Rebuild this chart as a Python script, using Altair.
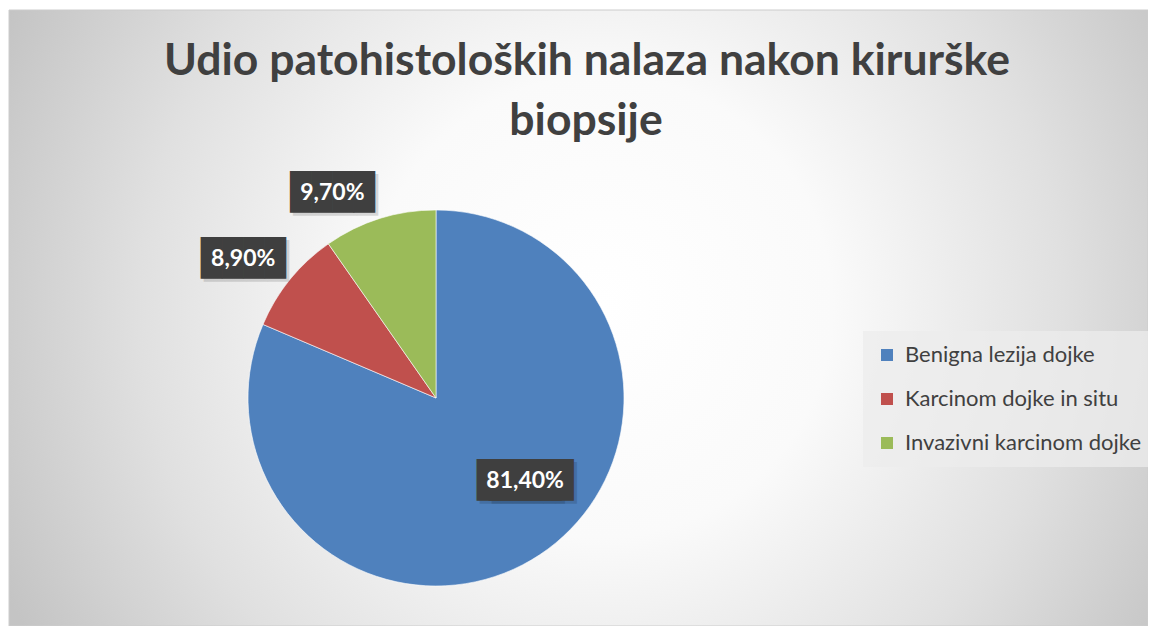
import altair as alt
import pandas as pd

# ---- data ----
categories = ["Benigna lezija dojke", "Karcinom dojke in situ", "Invazivni karcinom dojke"]
shares = [81.4, 8.9, 9.7]
colors = ["#4F81BD", "#C0504D", "#9BBB59"]
title_lines = ["Udio patohistoloških nalaza nakon kirurške", "biopsije"]

# ---- layout / style ----
W, H = 1139, 616
CX, CY = 427, 388
R = 188
TXT = "#404040"

df = pd.DataFrame({"category": categories, "share": shares,
                   "order": list(range(len(categories)))})
one = pd.DataFrame({"a": [0]})

theta_scale = alt.Scale(domain=[0, 100])

base = (
    alt.Chart(df)
    .transform_stack(stack="share", groupby=[], as_=["t0", "t1"],
                     sort=[alt.SortField("order", "ascending")])
    .transform_calculate(
        mid="(datum.t0 + datum.t1) / 2",
        label="replace(format(datum.share, '.2f'), '.', ',') + '%'",
    )
)

gradient = {
    "gradient": "radial",
    "x1": 0.52, "y1": 0.49, "r1": 0,
    "x2": 0.52, "y2": 0.49, "r2": 0.58,
    "stops": [
        {"offset": 0, "color": "#ffffff"},
        {"offset": 0.35, "color": "#fafafa"},
        {"offset": 0.7, "color": "#e0e0e0"},
        {"offset": 1, "color": "#c4c4c4"},
    ],
}

bg = alt.Chart(one).mark_rect(fill=gradient, stroke="#cccccc", strokeWidth=1).encode(
    x=alt.value(0), x2=alt.value(W), y=alt.value(0), y2=alt.value(H)
)

arc = base.mark_arc(outerRadius=R, x=CX, y=CY, stroke="#ffffff", strokeWidth=0.6).encode(
    theta=alt.Theta("t0:Q", scale=theta_scale),
    theta2="t1:Q",
    color=alt.Color(
        "category:N",
        scale=alt.Scale(domain=categories, range=colors),
        legend=alt.Legend(
            title=None, orient="none", legendX=854, legendY=321,
            fillColor="rgba(236,236,236,0.75)", padding=13,
            symbolType="square", symbolSize=144, symbolStrokeWidth=0,
            labelFont="Lato", labelFontSize=22, labelColor=TXT,
            rowPadding=22, labelOffset=7, labelLimit=400,
        ),
    ),
)

title1 = alt.Chart(one).mark_text(
    text=title_lines[0], font="Lato", fontWeight="bold", fontSize=44.5,
    color=TXT, align="center", baseline="alphabetic"
).encode(x=alt.value(578), y=alt.value(65))
title2 = alt.Chart(one).mark_text(
    text=title_lines[1], font="Lato", fontWeight="bold", fontSize=44.5,
    color=TXT, align="center", baseline="alphabetic"
).encode(x=alt.value(577), y=alt.value(125))

# label placement: (category, radius, dx, dy, box offsets)
label_specs = [
    (categories[0], 119, 23.5, -16, [-6, 6]),
    (categories[1], 238, -8, 11, [0]),
    (categories[2], 232, -34, 16, [0]),
]

shadow_layers = []
box_layers = []
text_layers = []
for cat, r, dx, dy, offs in label_specs:
    sub = base.transform_filter(alt.datum.category == cat)
    for off in offs:
        shadow_layers.append(
            sub.mark_text(
                text="████", font="DejaVu Sans Mono", fontSize=35.2,
                color="#000000", opacity=0.13, radius=r, x=CX, y=CY,
                dx=dx + off + 3, dy=dy + 3, align="center", baseline="middle",
            ).encode(theta=alt.Theta("mid:Q", stack=None, scale=theta_scale))
        )
        box_layers.append(
            sub.mark_text(
                text="████", font="DejaVu Sans Mono", fontSize=35.2,
                color="#3f3f3f", radius=r, x=CX, y=CY, dx=dx + off, dy=dy,
                align="center", baseline="middle",
            ).encode(theta=alt.Theta("mid:Q", stack=None, scale=theta_scale))
        )
    text_layers.append(
        sub.mark_text(
            font="Lato", fontWeight="bold", fontSize=23, color="#ffffff",
            radius=r, x=CX, y=CY, dx=dx, dy=dy, align="center", baseline="middle",
        ).encode(
            theta=alt.Theta("mid:Q", stack=None, scale=theta_scale),
            text="label:N",
        )
    )

chart = (
    alt.layer(bg, arc, title1, title2, *shadow_layers, *box_layers, *text_layers)
    .properties(
        width=W, height=H,
        padding={"left": 1, "top": 2, "right": 0, "bottom": 0},
        autosize=alt.AutoSizeParams(type="none"),
    )
    .configure_view(strokeWidth=0)
)

chart.save("out.html", embed_options={"renderer": "svg", "actions": False})
